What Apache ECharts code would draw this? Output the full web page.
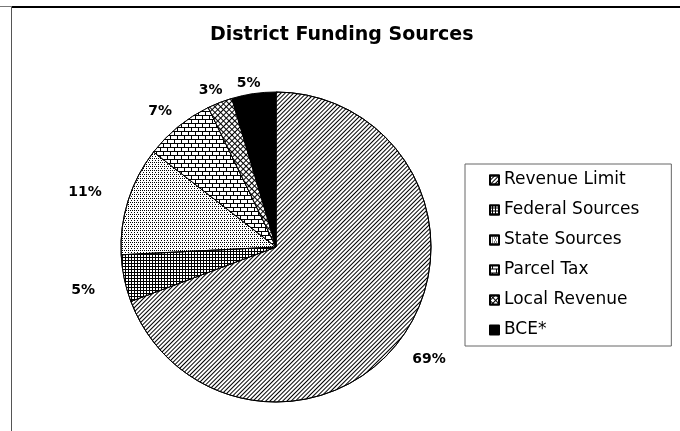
<!DOCTYPE html>
<html>
<head>
<meta charset="utf-8">
<script src="https://cdn.jsdelivr.net/npm/echarts@6/dist/echarts.min.js"></script>
<style>
html,body{margin:0;padding:0;background:#fff;}
#c{width:680px;height:431px;}
</style>
</head>
<body>
<div id="c"></div>
<script>
// ---- data ----
var categories = ['Revenue Limit', 'Federal Sources', 'State Sources', 'Parcel Tax', 'Local Revenue', 'BCE*'];
var shares = [69.3, 4.9, 11.3, 7.3, 2.6, 4.6];
var titleText = 'District Funding Sources';

// ---- styles (patterns per slice) ----
var sliceStyles = [
  { color: '#fff', decal: { color: '#000', symbol: 'rect', symbolSize: 1, dashArrayX: [1, 0], dashArrayY: [1, 2], rotation: -Math.PI / 4 } },
  { color: '#000', decal: { color: '#fff', symbol: 'rect', symbolSize: 1, dashArrayX: [2, 1], dashArrayY: [2, 1] } },
  { color: '#fff', decal: { color: '#000', symbol: 'rect', symbolSize: 1, dashArrayX: [[1, 1], [0, 2, 1, 0]], dashArrayY: [1, 1] } },
  { color: '#000', decal: { color: '#fff', symbol: 'rect', symbolSize: 1, dashArrayX: [[6, 1], [2, 1, 4, 0]], dashArrayY: [3, 1] } },
  { color: '#000', decal: { color: '#fff', symbol: 'rect', symbolSize: 1, dashArrayX: [3, 1], dashArrayY: [3, 1], rotation: Math.PI / 4 } },
  { color: '#000' }
];

var total = shares.reduce(function (a, b) { return a + b; }, 0);
var cum = [];
shares.reduce(function (acc, v, i) { cum[i] = acc; return acc + v; }, 0);

var CX = 276, CY = 247, R = 155;

var chart = echarts.init(document.getElementById('c'), null, { renderer: 'canvas' });
chart.setOption({
  animation: false,
  backgroundColor: '#fff',
  title: {
    text: titleText,
    left: 210,
    top: 23,
    padding: 0,
    textStyle: { fontFamily: 'DejaVu Sans', fontWeight: 'bold', fontSize: 19, lineHeight: 24, color: '#000' }
  },
  legend: {
    orient: 'vertical',
    left: 465,
    top: 164,
    padding: [7, 32, 7, 24],
    itemWidth: 9,
    itemHeight: 9,
    itemGap: 12,
    borderColor: '#666',
    borderWidth: 1,
    borderRadius: 0,
    icon: 'rect',
    selectedMode: false,
    data: categories,
    textStyle: { fontFamily: 'DejaVu Sans', fontSize: 17, lineHeight: 18, color: '#000' }
  },
  graphic: [
    { type: 'line', shape: { x1: 0, y1: 6.5, x2: 680, y2: 6.5 }, style: { stroke: '#777', lineWidth: 1 } },
    { type: 'line', shape: { x1: 12, y1: 7, x2: 680, y2: 7 }, style: { stroke: '#000', lineWidth: 2 } },
    { type: 'line', shape: { x1: 11.5, y1: 7, x2: 11.5, y2: 431 }, style: { stroke: '#555', lineWidth: 1 } }
  ],
  series: [{
    type: 'pie',
    center: [CX, CY],
    radius: R,
    startAngle: 90,
    clockwise: true,
    avoidLabelOverlap: false,
    itemStyle: { borderColor: '#000', borderWidth: 1 },
    emphasis: { disabled: true },
    labelLine: { show: false },
    label: {
      show: true,
      position: 'outside',
      fontFamily: 'DejaVu Sans',
      fontWeight: 'bold',
      fontSize: 14,
      color: '#000',
      formatter: function (p) { return Math.round(p.value / total * 100) + '%'; }
    },
    labelLayout: function (p) {
      var i = p.dataIndex;
      var mid = (cum[i] + shares[i] / 2) / total * Math.PI * 2;
      var dx = Math.sin(mid), dy = -Math.cos(mid);
      var w = p.labelRect ? p.labelRect.width : 30;
      var d = R + 14 + (w / 2 + 14) * dx * dx;
      return { x: CX + dx * d - 3, y: CY + dy * d + 4, align: 'center', verticalAlign: 'middle' };
    },
    data: categories.map(function (name, i) {
      return { name: name, value: shares[i], itemStyle: sliceStyles[i] };
    })
  }]
});
</script>
</body>
</html>
